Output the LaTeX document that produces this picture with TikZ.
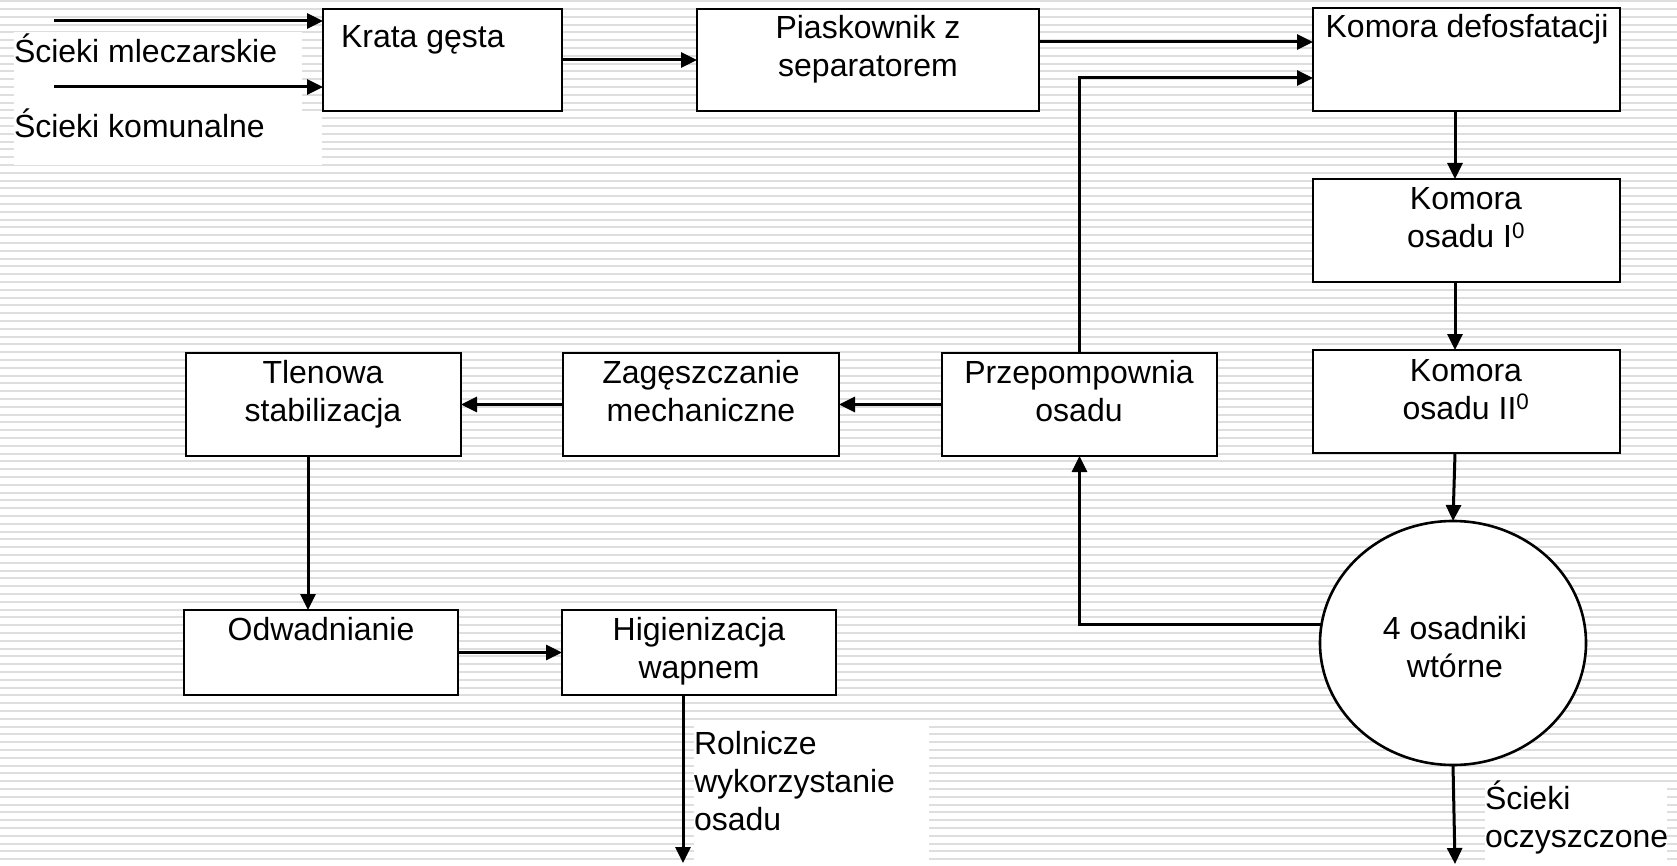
\documentclass[tikz,border=0pt]{standalone}
\usepackage{fontspec}
\setmainfont{Liberation Sans}
\usetikzlibrary{arrows.meta,shapes.geometric}
\tikzset{
  stripe/.style={line width=2pt, draw=black!13},
  procbox/.style={draw, line width=2.6pt, fill=white, rectangle, inner sep=0pt, outer sep=0pt, anchor=north west},
  lbl/.style={font=\fontsize{32}{38}\selectfont, inner sep=0pt, outer sep=0pt, align=center, anchor=base},
  lbll/.style={font=\fontsize{32}{38}\selectfont, inner sep=0pt, outer sep=0pt, align=left, anchor=base west},
  arr/.style={line width=3pt, -{Triangle[length=16pt,width=15pt]}},
  whitebg/.style={fill=white, draw=none}
}
\begin{document}
\begin{tikzpicture}[x=1pt,y=-1pt]
\useasboundingbox (0,0) rectangle (1677,866);
\fill[white] (0,0) rectangle (1677,866);
\foreach \i in {0,...,111} {\draw[stripe] (0,1.2+7.8*\i) -- (1677,1.2+7.8*\i);}
% white label backgrounds
\fill[whitebg] (14,32) rectangle (302,111);
\fill[whitebg] (14,111) rectangle (322,165);
\fill[whitebg] (694,725) rectangle (929,866);
\fill[whitebg] (1485,783) rectangle (1667,866);
% helper coordinates
\coordinate (y42) at (0,42);
\coordinate (y78) at (0,78);
\coordinate (x1455) at (1455,0);
\coordinate (x308) at (308,0);
\coordinate (x683) at (683,0);
\coordinate (in1) at (54,21);
\coordinate (in2) at (54,87);
% boxes
\node[procbox, minimum width=239pt, minimum height=102pt] (krata) at (323,9) {};
\node[procbox, minimum width=342pt, minimum height=102pt] (piask) at (697,9) {};
\node[procbox, minimum width=307pt, minimum height=103pt] (kdef) at (1313,8) {};
\node[procbox, minimum width=307pt, minimum height=103pt] (k1) at (1313,179) {};
\node[procbox, minimum width=307pt, minimum height=103pt] (k2) at (1313,350) {};
\node[procbox, minimum width=275pt, minimum height=103pt] (tlen) at (186,353) {};
\node[procbox, minimum width=276pt, minimum height=103pt] (zag) at (563,353) {};
\node[procbox, minimum width=275pt, minimum height=103pt] (przep) at (942,353) {};
\node[procbox, minimum width=274pt, minimum height=85pt] (odw) at (184,610) {};
\node[procbox, minimum width=274pt, minimum height=85pt] (hig) at (562,610) {};
\node[draw, line width=2.6pt, fill=white, ellipse, inner sep=0pt, outer sep=0pt, minimum width=266pt, minimum height=244pt] (circ) at (1453,643) {};
% texts (anchor base = baseline of the last line)
\node[lbll] (tkrata) at (341,48) {Krata gęsta};
\node[lbl] (tpiask) at (868,77) {Piaskownik z\\separatorem};
\node[lbl] (tkdef) at (1467,38) {Komora defosfatacji};
\node[lbl] (tk1) at (1466,248) {Komora\\osadu I\textsuperscript{0}};
\node[lbl] (tk2) at (1466,419) {Komora\\osadu II\textsuperscript{0}};
\node[lbl] (ttlen) at (323,421) {Tlenowa\\stabilizacja};
\node[lbl] (tzag) at (701,421) {Zagęszczanie\\mechaniczne};
\node[lbl] (tprzep) at (1079,421) {Przepompownia\\osadu};
\node[lbl] (todw) at (321,640) {Odwadnianie};
\node[lbl] (thig) at (699,678) {Higienizacja\\wapnem};
\node[lbl] (tcirc) at (1455,677) {4 osadniki\\wtórne};
\node[lbll] (tmlecz) at (14,63) {Ścieki mleczarskie};
\node[lbll] (tkom) at (14,138) {Ścieki komunalne};
\node[lbll] (trol) at (694,830) {Rolnicze\\wykorzystanie\\osadu};
\node[lbll] (tocz) at (1485,847) {Ścieki\\oczyszczone};
% end coordinates
\coordinate (out1) at (683,863);
\coordinate (out2) at (1455,864);
% connectors
\draw[arr] (in1) -- (in1 -| krata.west);
\draw[arr] (in2) -- (in2 -| krata.west);
\draw[arr] (krata.east) -- (piask.west);
\draw[arr] (piask.east |- y42) -- (kdef.west |- y42);
\draw[arr] (przep.north) |- (kdef.west |- y78);
\draw[arr] (kdef.south -| x1455) -- (k1.north -| x1455);
\draw[arr] (k1.south -| x1455) -- (k2.north -| x1455);
\draw[arr] (k2.south -| x1455) -- (circ.north);
\draw[arr] (circ.south) -- (out2);
\draw[arr] (circ.172) -| (przep.south);
\draw[arr] (przep.west) -- (zag.east);
\draw[arr] (zag.west) -- (tlen.east);
\draw[arr] (tlen.south -| x308) -- (odw.north -| x308);
\draw[arr] (odw.east) -- (hig.west);
\draw[arr] (hig.south -| x683) -- (out1);
\end{tikzpicture}
\end{document}
